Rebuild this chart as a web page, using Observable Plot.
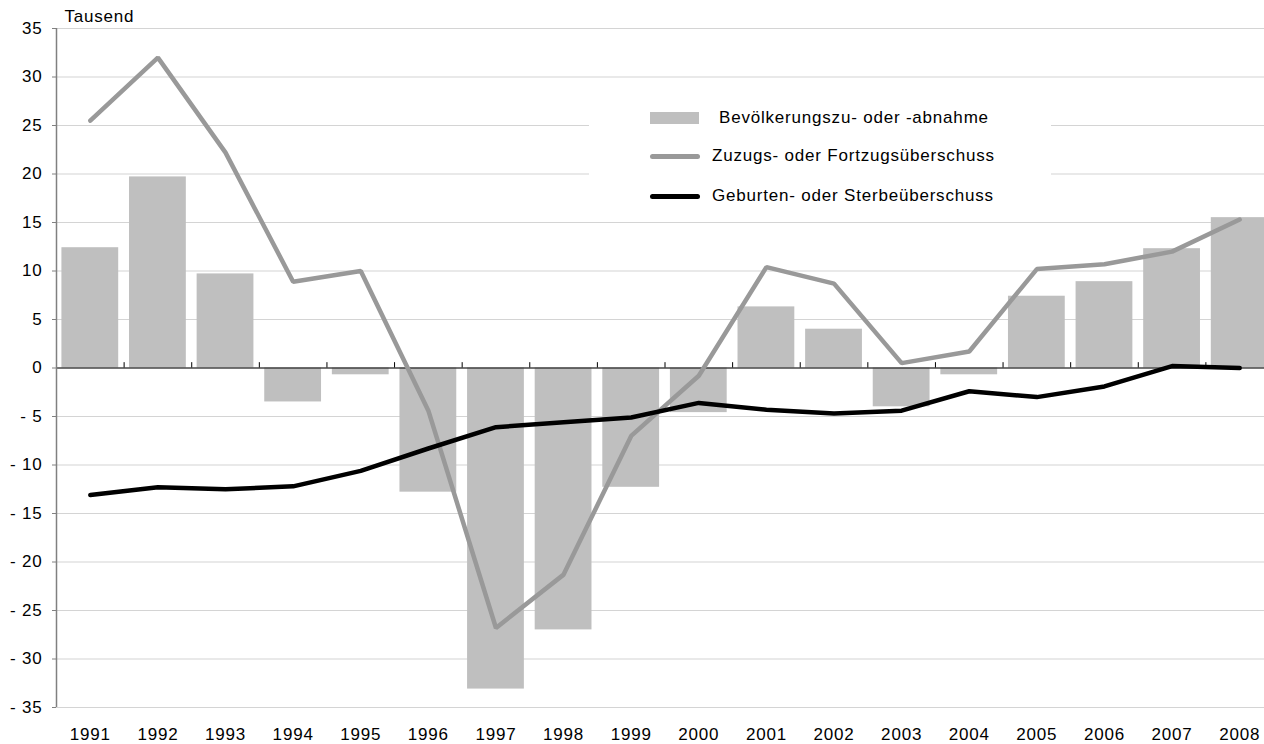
<!DOCTYPE html>
<html>
<head>
<meta charset="utf-8">
<script src="https://cdn.jsdelivr.net/npm/d3@7"></script>
<script src="https://cdn.jsdelivr.net/npm/@observablehq/plot@0.6"></script>
<style>
  html, body { margin: 0; padding: 0; background: white; overflow: hidden; }
  body { font-family: "Liberation Sans", Arial, sans-serif; }
  #wrap { position: relative; width: 1264px; height: 744px; }
  #legend {
    position: absolute; left: 589px; top: 97px; width: 462px; height: 116px;
    background: white; font-size: 17px; letter-spacing: 0.8px; color: #000;
  }
  .item { position: absolute; left: 61px; height: 20px; display: flex; align-items: center; white-space: nowrap; }
  .sw { display: inline-block; width: 50px; }
</style>
</head>
<body>
<div id="wrap">
  <div id="chart"></div>
  <div id="legend"></div>
</div>
<script>
// ---- data ----
const years = [1991,1992,1993,1994,1995,1996,1997,1998,1999,2000,2001,2002,2003,2004,2005,2006,2007,2008];
const bevoelkerung = [12.4,19.7,9.7,-3.5,-0.7,-12.8,-33.1,-27.0,-12.3,-4.6,6.3,4.0,-4.0,-0.7,7.4,8.9,12.3,15.5];
const wanderung   = [25.5,32.0,22.2,8.9,10.0,-4.4,-26.8,-21.3,-7.0,-0.8,10.4,8.7,0.5,1.7,10.2,10.7,12.0,15.3];
const natuerlich  = [-13.1,-12.3,-12.5,-12.2,-10.6,-8.3,-6.1,-5.6,-5.1,-3.6,-4.3,-4.7,-4.4,-2.4,-3.0,-1.9,0.2,0.0];
const yTicks = [-35,-30,-25,-20,-15,-10,-5,0,5,10,15,20,25,30,35];
const seriesNames = ["Bevölkerungszu- oder -abnahme", "Zuzugs- oder Fortzugsüberschuss", "Geburten- oder Sterbeüberschuss"];
const unitLabel = "Tausend";

const barColor = "#bfbfbf", grayLine = "#999999", blackLine = "#000000";

const rows = years.map((y, i) => ({year: y, bev: bevoelkerung[i], wan: wanderung[i], nat: natuerlich[i]}));
const boundaries = years.slice(1).map(y => y - 0.5);
const fmtY = d => d < 0 ? "- " + Math.abs(d) : String(d);

const chart = Plot.plot({
  width: 1264,
  height: 744,
  marginLeft: 56,
  marginRight: 0,
  marginTop: 28,
  marginBottom: 37,
  style: {fontFamily: "'Liberation Sans', Arial, sans-serif", fontSize: "17px", letterSpacing: "0.8px", background: "white"},
  x: {domain: [years[0] - 0.5, years[years.length - 1] + 0.5], range: [56, 1273], axis: null},
  y: {domain: [-35, 35], axis: null},
  marks: [
    Plot.ruleY(yTicks, {stroke: "#d4d4d4", strokeWidth: 1.2}),
    Plot.rectY(rows, {x1: d => d.year - 0.42, x2: d => d.year + 0.42, y1: 0, y2: "bev", fill: barColor}),
    Plot.ruleY([0], {stroke: "#000", strokeWidth: 1}),
    Plot.ruleX(boundaries, {y1: 0, y2: 0.55, stroke: "#000", strokeWidth: 1}),
    Plot.ruleX([years[0] - 0.5], {y1: -35, y2: 35, stroke: "#808080", strokeWidth: 1.5}),
    Plot.axisY(yTicks, {tickSize: 4, tickPadding: 10, tickFormat: fmtY, stroke: "#808080", fill: "#000", fontSize: 17, label: null}),
    Plot.axisX(years, {tickSize: 0, tickPadding: 20, tickFormat: d => String(d), fill: "#000", fontSize: 17, label: null}),
    Plot.line(rows, {x: "year", y: "wan", stroke: grayLine, strokeWidth: 4.5, strokeLinejoin: "miter", strokeLinecap: "round"}),
    Plot.line(rows, {x: "year", y: "nat", stroke: blackLine, strokeWidth: 4.5, strokeLinejoin: "miter", strokeLinecap: "round"}),
    Plot.text([unitLabel], {frameAnchor: "top-left", lineAnchor: "middle", dx: 8, dy: -12, textAnchor: "start", fontSize: 17, fill: "#000"})
  ]
});
document.getElementById("chart").appendChild(chart);

// ---- legend (over the plot, with white background) ----
const legend = document.getElementById("legend");
const tops = [11, 49, 89];
const swatches = [
  `<span class="sw" style="height:12px;width:49px;background:${barColor};margin-right:20px"></span>`,
  `<span class="sw" style="height:5px;border-radius:3px;background:${grayLine};margin-right:12px"></span>`,
  `<span class="sw" style="height:5px;border-radius:3px;background:${blackLine};margin-right:12px"></span>`
];
seriesNames.forEach((name, i) => {
  const div = document.createElement("div");
  div.className = "item";
  div.style.top = tops[i] + "px";
  div.innerHTML = swatches[i] + `<span>${name}</span>`;
  legend.appendChild(div);
});
</script>
</body>
</html>
